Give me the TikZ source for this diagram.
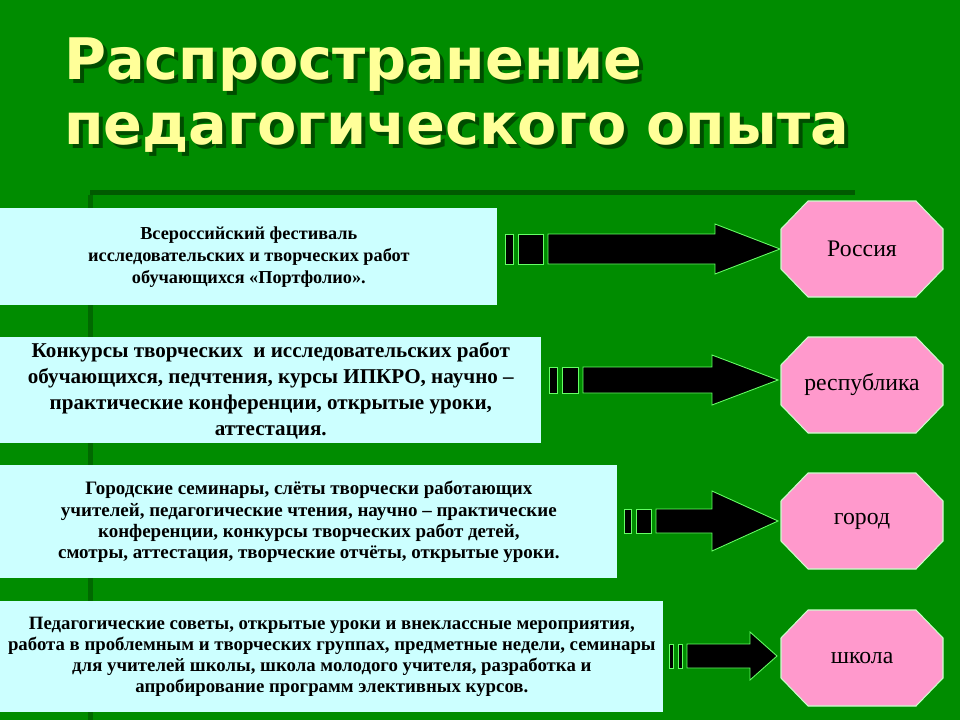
\documentclass[tikz,border=0pt]{standalone}
\usepackage{fontspec}
\setmainfont{Liberation Serif}
\newfontfamily\titlefont{DejaVu Sans}
\usetikzlibrary{positioning}
\definecolor{bggreen}{HTML}{008C00}
\definecolor{darkline}{HTML}{005A00}
\definecolor{boxcyan}{HTML}{CCFFFF}
\definecolor{octpink}{HTML}{FF99CC}
\definecolor{titleyellow}{HTML}{FFFF99}
\tikzset{
  infobox/.style={fill=boxcyan, draw=none, align=center, inner sep=0pt,
    font=\bfseries\fontsize{10.4}{12.6}\selectfont, anchor=north west},
  octlabel/.style={font=\fontsize{13.5}{15}\selectfont},
  octline/.style={fill=octpink, draw=white!80!green, line width=0.6pt},
  arrowline/.style={fill=black, draw=green!60!white, line width=0.5pt}
}
% octagon: centre x, centre y, name, text
\newcommand{\octnode}[4]{%
  \draw[octline] (#1-81,#2-20) -- (#1-54,#2-48) -- (#1+54,#2-48) -- (#1+81,#2-20)
    -- (#1+81,#2+20) -- (#1+54,#2+48) -- (#1-54,#2+48) -- (#1-81,#2+20) -- cycle;
  \node[octlabel] (#3) at (#1,#2) {#4};}
% block arrow: bar1, bar2 start, body start, head start, tip, y, half body, half head
\newcommand{\blockarrow}[8]{%
  \draw[arrowline] (#1,#6-#7) rectangle (#2-5,#6+#7);
  \draw[arrowline] (#2,#6-#7) rectangle (#3-5,#6+#7);
  \draw[arrowline] (#3,#6-#7) -- (#4,#6-#7) -- (#4,#6-#8) -- (#5,#6)
    -- (#4,#6+#8) -- (#4,#6+#7) -- (#3,#6+#7) -- cycle;}
\begin{document}
\begin{tikzpicture}[x=0.02cm, y=-0.02cm]
  % background
  \fill[bggreen] (0,0) rectangle (960,720);
  \fill[darkline] (90,190) rectangle (855,195);
  \fill[darkline!70!bggreen] (88,195) rectangle (93,720);
  \useasboundingbox (0,0) rectangle (960,720);

  % title
  \node[anchor=north west, align=left, text=black!70!green,
    font=\titlefont\bfseries\fontsize{32.6}{37}\selectfont] at (62,36)
    {Распространение\\педагогического опыта};
  \node[anchor=north west, align=left, text=titleyellow,
    font=\titlefont\bfseries\fontsize{32.6}{37}\selectfont] (title) at (58,32)
    {Распространение\\педагогического опыта};

  % boxes
  \node[infobox, minimum width=497*0.02cm, minimum height=97*0.02cm] (box1) at (0,208)
    {Всероссийский фестиваль\\исследовательских и творческих работ\\обучающихся «Портфолио».};
  \node[infobox, minimum width=541*0.02cm, minimum height=106*0.02cm,
    font=\bfseries\fontsize{12}{14.8}\selectfont] (box2) at (0,337)
    {Конкурсы творческих \ и исследовательских работ\\обучающихся, педчтения, курсы ИПКРО, научно –\\практические конференции, открытые уроки,\\аттестация.};
  \node[infobox, minimum width=617*0.02cm, minimum height=113*0.02cm,
    font=\bfseries\fontsize{10.8}{12}\selectfont] (box3) at (0,465)
    {Городские семинары, слёты творчески работающих\\учителей, педагогические чтения, научно – практические\\конференции, конкурсы творческих работ детей,\\смотры, аттестация, творческие отчёты, открытые уроки.};
  \node[infobox, minimum width=663*0.02cm, minimum height=111*0.02cm,
    font=\bfseries\fontsize{10.7}{12}\selectfont] (box4) at (0,601)
    {Педагогические советы, открытые уроки и внеклассные мероприятия,\\работа в проблемным и творческих группах, предметные недели, семинары\\для учителей школы, школа молодого учителя, разработка и\\апробирование программ элективных курсов.};

  % levels
  \octnode{862}{249}{russia}{Россия}
  \octnode{862}{385}{republic}{республика}
  \octnode{862}{521}{city}{город}
  \octnode{862}{658}{school}{школа}

  % arrows
  \blockarrow{505}{518}{548}{715}{780}{249}{15}{25}
  \blockarrow{549}{562}{583}{712}{778}{380}{13}{25}
  \blockarrow{624}{636}{656}{712}{778}{521}{12}{30}
  \blockarrow{669}{678}{687}{750}{777}{656}{12}{24}
\end{tikzpicture}
\end{document}
